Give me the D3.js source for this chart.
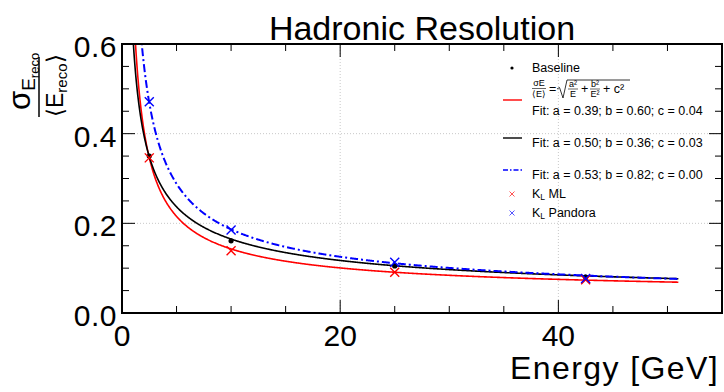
<!DOCTYPE html>
<html lang="en">
<head>
    <meta charset="UTF-8">
    <script src="https://d3js.org/d3.v7.min.js"></script>
    <title>Hadronic Resolution</title>
    <style>
        body { margin: 0; background: white; }
        svg { display: block; font-family: "Liberation Sans", Arial, sans-serif; }
    </style>
</head>
<body>
<script>
    /*------------------------- data -------------------------*/
    const energies = [2.5, 10, 25, 42.5];
    const baseline = [0.350, 0.161, 0.105, 0.080];
    const klML = [0.346, 0.139, 0.091, 0.074];
    const klPandora = [0.471, 0.185, 0.113, 0.077];

    // fit parameters a, b, c
    const fitNames = ["ml", "baseline", "pandora"];
    const fitA = [0.39, 0.50, 0.53];
    const fitB = [0.60, 0.36, 0.82];
    const fitC = [0.04, 0.03, 0.00];
    const fitColors = ["#ff0000", "#000000", "#0000ff"];
    const fitDash = [null, null, "8,3,2,3"];
    const fitRange = [0.5, 51];

    const xTicks = [0, 20, 40];
    const yTicks = [0.0, 0.2, 0.4, 0.6];

    /*------------------------- layout -----------------------*/
    const W = 724, H = 392;
    const plot = { left: 122, right: 722, top: 44, bottom: 313 };

    const svg = d3.select("body").append("svg")
        .attr("width", W)
        .attr("height", H);

    const x = d3.scaleLinear().domain([0, 55]).range([plot.left, plot.right]);
    const y = d3.scaleLinear().domain([0, 0.6]).range([plot.bottom, plot.top]);

    svg.append("defs").append("clipPath").attr("id", "clip")
        .append("rect")
        .attr("x", plot.left).attr("y", plot.top)
        .attr("width", plot.right - plot.left).attr("height", plot.bottom - plot.top);

    /*------------------------- grid -------------------------*/
    const grid = svg.append("g").attr("stroke", "#c8c8c8").attr("stroke-dasharray", "1,2").attr("stroke-width", 1);
    [20, 40].forEach(v => grid.append("line")
        .attr("x1", x(v)).attr("x2", x(v)).attr("y1", plot.top).attr("y2", plot.bottom));
    [0.2, 0.4].forEach(v => grid.append("line")
        .attr("x1", plot.left).attr("x2", plot.right).attr("y1", y(v)).attr("y2", y(v)));

    /*------------------------- ticks (inward, all 4 sides) --*/
    const ticks = svg.append("g").attr("stroke", "#000").attr("stroke-width", 1);
    d3.range(5, 55, 5).forEach(v => {
        const len = xTicks.includes(v) ? 13 : 7;
        ticks.append("line").attr("x1", x(v)).attr("x2", x(v)).attr("y1", plot.bottom).attr("y2", plot.bottom - len);
        ticks.append("line").attr("x1", x(v)).attr("x2", x(v)).attr("y1", plot.top).attr("y2", plot.top + len);
    });
    d3.range(1, 12).map(i => i * 0.05).forEach(v => {
        const major = Math.abs(v - 0.2) < 1e-6 || Math.abs(v - 0.4) < 1e-6;
        const len = major ? 13 : 7;
        ticks.append("line").attr("x1", plot.left).attr("x2", plot.left + len).attr("y1", y(v)).attr("y2", y(v));
        ticks.append("line").attr("x1", plot.right).attr("x2", plot.right - len).attr("y1", y(v)).attr("y2", y(v));
    });

    /*------------------------- fit curves -------------------*/
    const line = d3.line().x(d => x(d[0])).y(d => y(d[1]));
    const curves = svg.append("g").attr("clip-path", "url(#clip)");
    fitNames.forEach((n, i) => {
        const pts = d3.range(fitRange[0], fitRange[1] + 0.001, 0.05).map(e =>
            [e, Math.sqrt(fitA[i] ** 2 / e + fitB[i] ** 2 / (e * e) + fitC[i] ** 2)]);
        curves.append("path")
            .attr("d", line(pts))
            .attr("fill", "none")
            .attr("stroke", fitColors[i])
            .attr("stroke-width", n === "pandora" ? 2 : 1.6)
            .attr("stroke-dasharray", fitDash[i]);
    });

    /*------------------------- markers ----------------------*/
    function cross(g, cx, cy, s, color, w) {
        g.append("path")
            .attr("d", `M${cx - s},${cy - s}L${cx + s},${cy + s}M${cx - s},${cy + s}L${cx + s},${cy - s}`)
            .attr("stroke", color).attr("stroke-width", w).attr("fill", "none");
    }
    const marks = svg.append("g");
    energies.forEach((e, i) => {
        marks.append("circle").attr("cx", x(e)).attr("cy", y(baseline[i])).attr("r", 2.6).attr("fill", "#000");
    });
    energies.forEach((e, i) => cross(marks, x(e), y(klML[i]), 4.5, "#ff0000", 1.4));
    energies.forEach((e, i) => cross(marks, x(e), y(klPandora[i]), 4.5, "#0000ff", 1.4));

    /*------------------------- frame ------------------------*/
    svg.append("rect")
        .attr("x", plot.left).attr("y", plot.top)
        .attr("width", plot.right - plot.left).attr("height", plot.bottom - plot.top)
        .attr("fill", "none").attr("stroke", "#000").attr("stroke-width", 2);

    /*------------------------- tick labels ------------------*/
    svg.append("g").selectAll("text").data(xTicks).join("text")
        .attr("x", d => x(d)).attr("y", 346)
        .attr("text-anchor", "middle").attr("font-size", 30)
        .text(d => d);
    svg.append("g").selectAll("text").data(yTicks).join("text")
        .attr("x", 117).attr("y", d => y(d) + 13)
        .attr("text-anchor", "end").attr("font-size", 30).attr("letter-spacing", 0.5)
        .text(d => d.toFixed(1));

    /*------------------------- titles -----------------------*/
    svg.append("text").attr("x", (plot.left + plot.right) / 2).attr("y", 40)
        .attr("text-anchor", "middle").attr("font-size", 34)
        .text("Hadronic Resolution");
    svg.append("text").attr("x", 719).attr("y", 379)
        .attr("text-anchor", "end").attr("font-size", 32).attr("letter-spacing", 1.4)
        .text("Energy [GeV]");

    // y label: sigma_E_reco / <E_reco>, rotated
    const yl = svg.append("g").attr("transform", "translate(39,87) rotate(-90)");
    yl.append("line").attr("x1", -30).attr("x2", 30).attr("y1", 0).attr("y2", 0)
        .attr("stroke", "#000").attr("stroke-width", 1.5);
    const num = yl.append("text").attr("x", -23).attr("y", -9).attr("font-size", 31);
    num.append("tspan").text("σ");
    num.append("tspan").attr("font-size", 19).attr("dy", 5).text("E");
    num.append("tspan").attr("font-size", 13).attr("dy", 4).text("reco");
    const den = yl.append("text").attr("x", -30).attr("y", 24).attr("font-size", 23);
    den.append("tspan").text("⟨E");
    den.append("tspan").attr("font-size", 15).attr("dy", 4).text("reco");
    den.append("tspan").attr("dy", -4).text("⟩");

    /*------------------------- legend -----------------------*/
    const lg = svg.append("g").attr("font-size", 12.5);
    const lx = 503, tx = 532;
    lg.append("circle").attr("cx", 512).attr("cy", 68).attr("r", 1.6).attr("fill", "#000");
    lg.append("text").attr("x", tx).attr("y", 72).text("Baseline");

    const legendLines = [100, 138, 170];
    const legendFitY = [115, 147, 179];
    fitNames.forEach((n, i) => {
        lg.append("line").attr("x1", lx).attr("x2", lx + 19)
            .attr("y1", legendLines[i]).attr("y2", legendLines[i])
            .attr("stroke", fitColors[i]).attr("stroke-width", 1.4)
            .attr("stroke-dasharray", fitDash[i] ? "5,2,1.5,2" : null);
        lg.append("text").attr("x", tx).attr("y", legendFitY[i])
            .text(`Fit: a = ${fitA[i].toFixed(2)}; b = ${fitB[i].toFixed(2)}; c = ${fitC[i].toFixed(2)}`);
    });

    // resolution formula on the first fit entry
    const f = lg.append("g").attr("font-size", 9);
    f.append("text").attr("x", 539).attr("y", 86).attr("text-anchor", "middle").text("σE");
    f.append("line").attr("x1", 532).attr("x2", 546).attr("y1", 88.5).attr("y2", 88.5).attr("stroke", "#000").attr("stroke-width", 0.6);
    f.append("text").attr("x", 539).attr("y", 97).attr("text-anchor", "middle").text("⟨E⟩");
    f.append("text").attr("x", 549).attr("y", 93).attr("font-size", 12.5).text("=");
    f.append("path").attr("d", "M557,89 L559.5,87.5 L563,98 L567,80 L630,80")
        .attr("fill", "none").attr("stroke", "#000").attr("stroke-width", 0.8);
    f.append("text").attr("x", 573).attr("y", 87).attr("text-anchor", "middle").text("a²");
    f.append("line").attr("x1", 568).attr("x2", 578).attr("y1", 89).attr("y2", 89).attr("stroke", "#000").attr("stroke-width", 0.6);
    f.append("text").attr("x", 573).attr("y", 97).attr("text-anchor", "middle").text("E");
    f.append("text").attr("x", 581).attr("y", 93).attr("font-size", 12.5).text("+");
    f.append("text").attr("x", 595).attr("y", 87).attr("text-anchor", "middle").text("b²");
    f.append("line").attr("x1", 590).attr("x2", 600).attr("y1", 89).attr("y2", 89).attr("stroke", "#000").attr("stroke-width", 0.6);
    f.append("text").attr("x", 595).attr("y", 97).attr("text-anchor", "middle").text("E²");
    f.append("text").attr("x", 603).attr("y", 93).attr("font-size", 12.5).text("+ c²");

    cross(lg, 512, 194, 2.5, "#ff5555", 1);
    lg.append("text").attr("x", tx).attr("y", 198)
        .call(t => { t.append("tspan").text("K"); t.append("tspan").attr("font-size", 8.5).attr("dy", 2).text("L"); t.append("tspan").attr("dy", -2).text(" ML"); });
    cross(lg, 512, 213, 2.5, "#5555ff", 1);
    lg.append("text").attr("x", tx).attr("y", 217)
        .call(t => { t.append("tspan").text("K"); t.append("tspan").attr("font-size", 8.5).attr("dy", 2).text("L"); t.append("tspan").attr("dy", -2).text(" Pandora"); });
</script>
</body>
</html>
